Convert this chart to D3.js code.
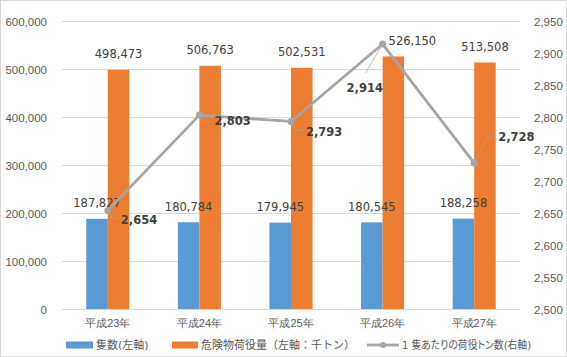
<!DOCTYPE html>
<html><head><meta charset="utf-8">
<script src="https://cdn.jsdelivr.net/npm/d3@7"></script>
<style>
body{margin:0;background:#fff;}
svg{display:block;font-family:"DejaVu Sans","Noto Sans CJK JP",sans-serif;}
</style></head>
<body><svg id="c" width="567" height="357"></svg>
<script>
const categories = ["平成23年","平成24年","平成25年","平成26年","平成27年"];
const vessels = [187827,180784,179945,180545,188258];
const cargo = [498473,506763,502531,526150,513508];
const perVessel = [2654,2803,2793,2914,2728];
const leftTicks = [0,100000,200000,300000,400000,500000,600000];
const rightTicks = [2500,2550,2600,2650,2700,2750,2800,2850,2900,2950];
const seriesNames = ["隻数(左軸)","危険物荷役量（左軸：千トン）","1 隻あたりの荷役トン数(右軸)"];
const colors = ["#5B9BD5","#ED7D31","#A5A5A5"];

const svg = d3.select("#c");
const W=567,H=357;
svg.append("rect").attr("x",0.5).attr("y",0.5).attr("width",W-1).attr("height",H-1)
  .attr("fill","#fff").attr("stroke","#D9D9D9");

const m={l:62,r:520,t:21,b:309};
const x = d3.scaleBand().domain(categories).range([m.l,m.r]).paddingInner(0.53).paddingOuter(0.265);
const xs = d3.scaleBand().domain([0,1]).range([0,x.bandwidth()]);
const yL = d3.scaleLinear().domain([0,600000]).range([m.b,m.t]);
const yR = d3.scaleLinear().domain([2500,2950]).range([m.b,m.t]);
const fmt = d3.format(",");
const numSize = "11.5px";

// gridlines
svg.append("g").selectAll("line").data(leftTicks).join("line")
  .attr("x1",m.l).attr("x2",m.r).attr("y1",d=>Math.round(yL(d))+0.5).attr("y2",d=>Math.round(yL(d))+0.5)
  .attr("stroke","#D9D9D9").attr("stroke-width",1);

// left axis
const gl = svg.append("g").attr("transform",`translate(${m.l-12},0)`)
  .call(d3.axisLeft(yL).tickValues(leftTicks).tickFormat(fmt).tickSize(0));
gl.select(".domain").remove();
gl.selectAll("text").attr("fill","#595959").style("font-size",numSize).attr("dy","0.35em").attr("font-family",null);

// right axis
const gr = svg.append("g").attr("transform",`translate(${m.r+11},0)`)
  .call(d3.axisRight(yR).tickValues(rightTicks).tickFormat(fmt).tickSize(0));
gr.select(".domain").remove();
gr.selectAll("text").attr("fill","#595959").style("font-size",numSize).attr("dy","0.35em").attr("font-family",null);

// x axis labels
const gx = svg.append("g").attr("transform",`translate(0,${m.b})`)
  .call(d3.axisBottom(x).tickSize(0));
gx.select(".domain").remove();
gx.selectAll("text").attr("fill","#595959").style("font-size","11px").attr("dy","1.35em").attr("font-family",null);

// bars
const bw = xs.bandwidth();
const barLblDx = [[0,0,0,0,0],[0,0,0,19,0]];
[vessels,cargo].forEach((arr,si)=>{
  svg.append("g").selectAll("rect").data(arr).join("rect")
    .attr("x",(d,i)=>x(categories[i])+xs(si))
    .attr("width",bw)
    .attr("y",d=>yL(d)).attr("height",d=>m.b-yL(d))
    .attr("fill",colors[si]);
});
[vessels,cargo].forEach((arr,si)=>{
  svg.append("g").selectAll("text").data(arr).join("text")
    .attr("x",(d,i)=>x(categories[i])+xs(si)+bw/2+barLblDx[si][i])
    .attr("y",d=>yL(d)-15.5).attr("dy","0.35em")
    .attr("text-anchor","middle").attr("fill","#404040").style("font-size",numSize)
    .text(d=>fmt(d));
});

// line
const cx = (i)=>x(categories[i])+x.bandwidth()/2;
const line = d3.line().x((d,i)=>cx(i)).y(d=>yR(d));
svg.append("path").datum(perVessel).attr("d",line).attr("fill","none")
  .attr("stroke",colors[2]).attr("stroke-width",2.75).attr("stroke-linejoin","round");
svg.append("g").selectAll("circle").data(perVessel).join("circle")
  .attr("cx",(d,i)=>cx(i)).attr("cy",d=>yR(d)).attr("r",3.5).attr("fill",colors[2]);

// line labels with leader lines (layout offsets)
const lblOff = [
  {dx:13,dy:9.5,lead:[[4,8],[10,8]]},
  {dx:15,dy:6,lead:[[5,6],[12,6]]},
  {dx:15,dy:10,lead:[[6,9],[12,9]]},
  {dx:-36,dy:44,lead:[[-17,29]]},
  {dx:24,dy:-26,lead:[[14,-27],[21,-27]]}
];
perVessel.forEach((d,i)=>{
  const px=cx(i), py=yR(d), o=lblOff[i];
  if(o.lead){
    const pts=[[px,py]].concat(o.lead.map(p=>[px+p[0],py+p[1]]));
    svg.append("path").attr("d",d3.line()(pts)).attr("fill","none").attr("stroke","#A5A5A5").attr("stroke-width",0.75);
  }
  svg.append("text").attr("x",px+o.dx).attr("y",py+o.dy).attr("dy","0.35em")
    .attr("fill","#404040").style("font-size",numSize).style("font-weight","bold").text(fmt(d));
});

// legend
const lg = svg.append("g").attr("transform","translate(0,345)");
const items=[{x:66,w:27,type:"rect"},{x:172,w:26,type:"rect"},{x:367,w:32,type:"line"}];
items.forEach((it,i)=>{
  if(it.type==="rect"){
    lg.append("rect").attr("x",it.x).attr("y",-3.5).attr("width",it.w).attr("height",7).attr("fill",colors[i]);
  } else {
    lg.append("line").attr("x1",it.x).attr("x2",it.x+it.w).attr("y1",0).attr("y2",0).attr("stroke",colors[2]).attr("stroke-width",2.75);
    lg.append("circle").attr("cx",it.x+it.w/2).attr("cy",0).attr("r",3).attr("fill",colors[2]);
  }
  const t = lg.append("text").attr("x",it.x+it.w+3).attr("y",0).attr("dy","0.35em")
    .attr("fill","#595959").style("font-size","11px").text(seriesNames[i]);
  if(i===2) t.style("font-feature-settings","'palt'").attr("textLength",129).attr("lengthAdjust","spacingAndGlyphs");
});
</script></body></html>
